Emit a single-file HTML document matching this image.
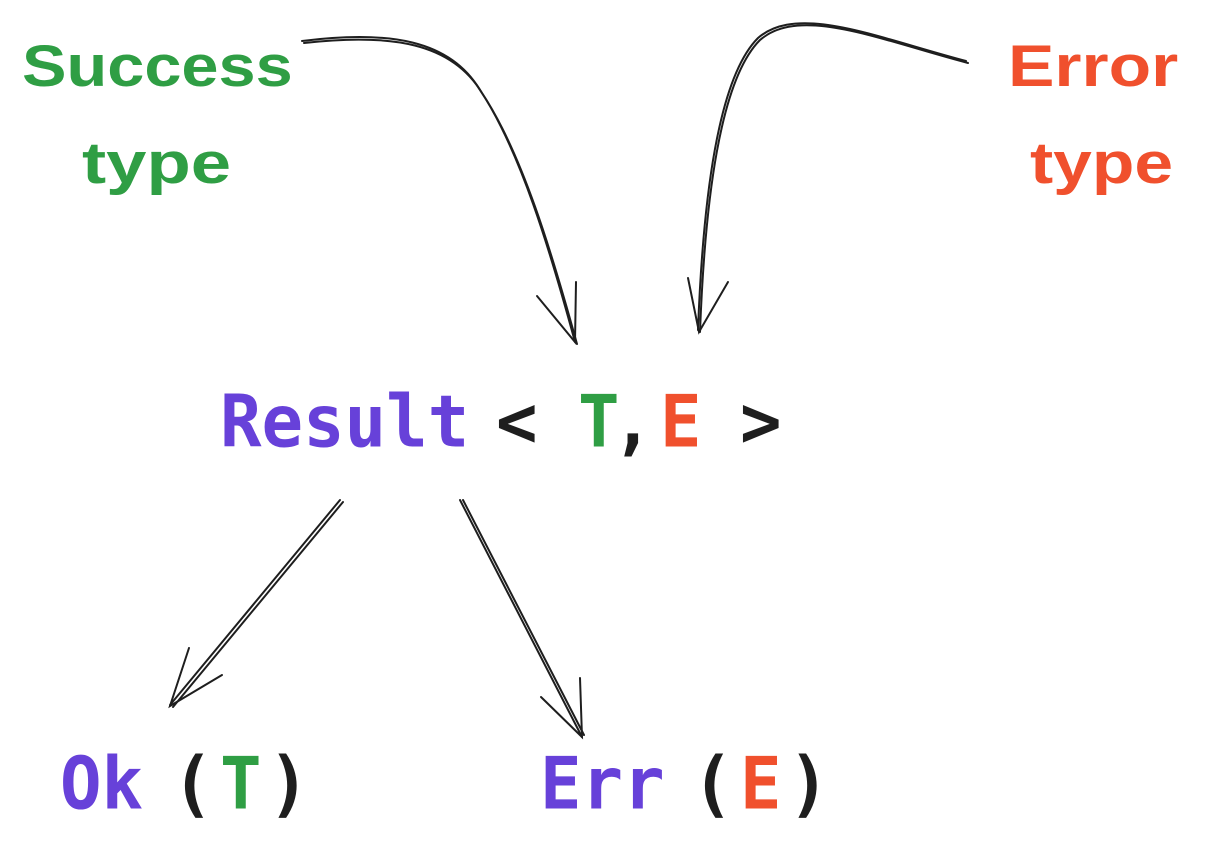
<!DOCTYPE html>
<html><head><meta charset="utf-8"><style>
html,body{margin:0;padding:0;background:#fff;width:1208px;height:846px;overflow:hidden}
.t{position:absolute;font-family:"DejaVu Sans Mono","Liberation Mono",monospace;font-weight:600;font-size:69px;line-height:1;transform-origin:left bottom;transform:scaleY(1.05);white-space:pre}
.h{position:absolute;font-family:"Liberation Sans",sans-serif;font-weight:bold;font-size:58px;line-height:1;white-space:pre;transform-origin:left top}
.p{color:#6741d9}.g{color:#2f9e44}.r{color:#f0502d}.k{color:#1e1e1e}
</style></head><body>
<div class="h g" style="left:22px;top:38px;transform:scaleX(1.15)">Success</div>
<div class="h g" style="left:82px;top:135px;transform:scaleX(1.25)">type</div>
<div class="h r" style="left:1008px;top:38px;transform:scaleX(1.2)">Error</div>
<div class="h r" style="left:1030px;top:135px;transform:scaleX(1.2)">type</div>

<div class="t p" style="left:220px;top:390px">Result</div>
<div class="t k" style="left:496px;top:390px">&lt;</div>
<div class="t g" style="left:578px;top:390px">T</div>
<div class="t k" style="left:612px;top:390px">,</div>
<div class="t r" style="left:660px;top:390px">E</div>
<div class="t k" style="left:740px;top:390px">&gt;</div>

<div class="t p" style="left:60px;top:752px">Ok</div>
<div class="t k" style="left:172px;top:752px">(</div>
<div class="t g" style="left:220px;top:752px">T</div>
<div class="t k" style="left:268px;top:752px">)</div>

<div class="t p" style="left:540px;top:752px">Err</div>
<div class="t k" style="left:692px;top:752px">(</div>
<div class="t r" style="left:740px;top:752px">E</div>
<div class="t k" style="left:788px;top:752px">)</div>

<svg width="1208" height="846" style="position:absolute;left:0;top:0" fill="none" stroke="#1e1e1e" stroke-width="2" stroke-linecap="round">
<path d="M302 41 C390 30 450 40 480 90 C520 150 550 250 575 342"/>
<path d="M304 43 C392 33 452 43 482 93 C522 153 552 253 577 344"/>
<path d="M537 296 L575 342 L576 282"/>
<path d="M968 63 C880 40 800 5 760 40 C720 80 705 200 700 332"/>
<path d="M966 61 C878 38 798 3 758 38 C718 78 703 198 698 330"/>
<path d="M688 278 L699 332 L728 282"/>
<path d="M340 500 L170 705"/>
<path d="M343 502 L173 707"/>
<path d="M189 648 L170 706 L222 675"/>
<path d="M460 500 L582 737"/>
<path d="M463 500 L584 735"/>
<path d="M541 697 L582 737 L580 678"/>
</svg>
</body></html>
